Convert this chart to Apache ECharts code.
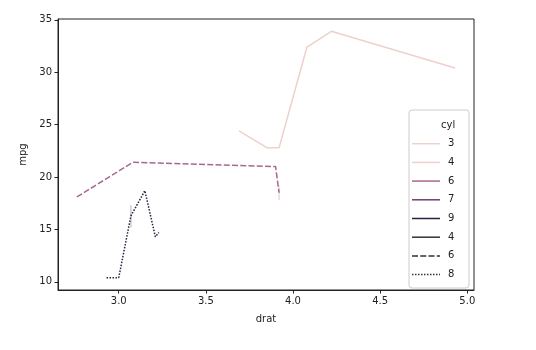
<!DOCTYPE html>
<html>
<head>
<meta charset="utf-8">
<script src="https://cdn.jsdelivr.net/npm/echarts@6/dist/echarts.min.js"></script>
<style>html,body{margin:0;padding:0;background:#fff;}#c{width:536px;height:350px;}</style>
</head>
<body>
<div id="c"></div>
<script>
// ---- data (mtcars, first 20 rows, aggregated per drat by seaborn) ----
var cyl4X = [3.69, 3.85, 3.92, 4.08, 4.22, 4.93];
var cyl4Y = [24.4, 22.8, 22.8, 32.4, 33.9, 30.4];

var cyl6X = [2.76, 3.08, 3.90, 3.92];
var cyl6Y = [18.1, 21.4, 21.0, 18.5];
var cyl6Lo = [18.1, 21.4, 21.0, 17.8];
var cyl6Hi = [18.1, 21.4, 21.0, 19.2];

var cyl8X = [2.93, 3.00, 3.07, 3.15, 3.21, 3.23];
var cyl8Y = [10.4, 10.4, 16.3, 18.7, 14.3, 14.7];
var cyl8Lo = [10.4, 10.4, 15.2, 18.7, 14.3, 14.7];
var cyl8Hi = [10.4, 10.4, 17.3, 18.7, 14.3, 14.7];

var xTicks = [3.0, 3.5, 4.0, 4.5, 5.0];
var yTicks = [10, 15, 20, 25, 30, 35];

var legendTitle = 'cyl';
var hueLegendLabels = ['3', '4', '6', '7', '9'];
var styleLegendLabels = ['4', '6', '8'];

// ---- styles ----
var col4 = '#edd1cb', col6 = '#a96790', col7 = '#6e3f71', col8 = '#2d1e3e';
var hueLegendColors = [col4, col4, col6, col7, col8];
var dash6 = [6, 2.25], dot8 = [1.5, 1.5];
var styleLegendDashes = ['solid', dash6, dot8];

function pairs(xs, ys) { return xs.map(function (x, i) { return [x, ys[i]]; }); }

// error band: thin vertical spans where repeated x values give a spread
function bandSeries(xs, lo, hi, color) {
  var d = [];
  xs.forEach(function (x, i) { if (hi[i] > lo[i]) d.push([x, lo[i], hi[i]]); });
  return {
    type: 'custom',
    silent: true,
    data: d,
    renderItem: function (params, api) {
      var p1 = api.coord([api.value(0), api.value(1)]);
      var p2 = api.coord([api.value(0), api.value(2)]);
      return { type: 'line', shape: { x1: p1[0], y1: p1[1], x2: p2[0], y2: p2[1] },
        style: { stroke: color, opacity: 0.3, lineWidth: 1.2 } };
    },
    z: 1
  };
}

var chart = echarts.init(document.getElementById('c'), null, { renderer: 'canvas' });
var font = 'DejaVu Sans';
var axisCol = '#222';

// legend graphics
var lg = [];
var lx = 409, ly = 110, lw = 60, lh = 178, rowH = 18.7, firstRow = 125;
lg.push({ type: 'rect', shape: { x: lx, y: ly, width: lw, height: lh, r: 3 },
  style: { fill: 'rgba(255,255,255,0.8)', stroke: '#cccccc', lineWidth: 1 }, z: 100 });
lg.push({ type: 'text', style: { text: legendTitle, x: 441, y: firstRow, fill: '#222', font: '10px ' + font, verticalAlign: 'middle' }, z: 101 });
var row = 1;
hueLegendLabels.forEach(function (lab, i) {
  var y = firstRow + row * rowH;
  lg.push({ type: 'line', shape: { x1: 412, y1: y, x2: 440, y2: y }, style: { stroke: hueLegendColors[i], lineWidth: 1.5 }, z: 101 });
  lg.push({ type: 'text', style: { text: lab, x: 448, y: y, fill: '#222', font: '10px ' + font, verticalAlign: 'middle' }, z: 101 });
  row++;
});
styleLegendLabels.forEach(function (lab, i) {
  var y = firstRow + row * rowH;
  lg.push({ type: 'line', shape: { x1: 412, y1: y, x2: 440, y2: y }, style: { stroke: '#333333', lineWidth: 1.5, lineDash: styleLegendDashes[i] === 'solid' ? null : styleLegendDashes[i] }, z: 101 });
  lg.push({ type: 'text', style: { text: lab, x: 448, y: y, fill: '#222', font: '10px ' + font, verticalAlign: 'middle' }, z: 101 });
  row++;
});

chart.setOption({
  animation: false,
  backgroundColor: '#fff',
  textStyle: { fontFamily: font },
  grid: { left: 58, right: 62, top: 19, bottom: 60, show: true, borderColor: axisCol, borderWidth: 1, backgroundColor: '#fff' },
  xAxis: {
    type: 'value', min: 2.6515, max: 5.0385,
    name: 'drat', nameLocation: 'middle', nameGap: 24,
    nameTextStyle: { fontFamily: font, fontSize: 10, color: '#222' },
    axisLine: { show: true, onZero: false, lineStyle: { color: axisCol, width: 1 } },
    axisTick: { show: true, inside: false, length: 3.5, customValues: xTicks, lineStyle: { color: axisCol } },
    axisLabel: { customValues: xTicks, margin: 6, fontFamily: font, fontSize: 10, color: '#222',
      formatter: function (v) { return v.toFixed(1); } },
    splitLine: { show: false }
  },
  yAxis: {
    type: 'value', min: 9.225, max: 35.075,
    name: 'mpg', nameLocation: 'middle', nameGap: 30,
    nameTextStyle: { fontFamily: font, fontSize: 10, color: '#222' },
    axisLine: { show: true, onZero: false, lineStyle: { color: axisCol, width: 1 } },
    axisTick: { show: true, inside: false, length: 3.5, customValues: yTicks, lineStyle: { color: axisCol } },
    axisLabel: { customValues: yTicks, margin: 6, fontFamily: font, fontSize: 10, color: '#222',
      formatter: function (v) { return String(v); } },
    splitLine: { show: false }
  },
  series: [
    bandSeries(cyl6X, cyl6Lo, cyl6Hi, col6),
    bandSeries(cyl8X, cyl8Lo, cyl8Hi, col8),
    { type: 'line', name: '4', data: pairs(cyl4X, cyl4Y), showSymbol: false, symbol: 'none',
      lineStyle: { color: col4, width: 1.5, type: 'solid' }, z: 2 },
    { type: 'line', name: '6', data: pairs(cyl6X, cyl6Y), showSymbol: false, symbol: 'none',
      lineStyle: { color: col6, width: 1.5, type: dash6 }, z: 2 },
    { type: 'line', name: '8', data: pairs(cyl8X, cyl8Y), showSymbol: false, symbol: 'none',
      lineStyle: { color: col8, width: 1.5, type: dot8 }, z: 2 }
  ],
  graphic: lg
});
</script>
</body>
</html>
